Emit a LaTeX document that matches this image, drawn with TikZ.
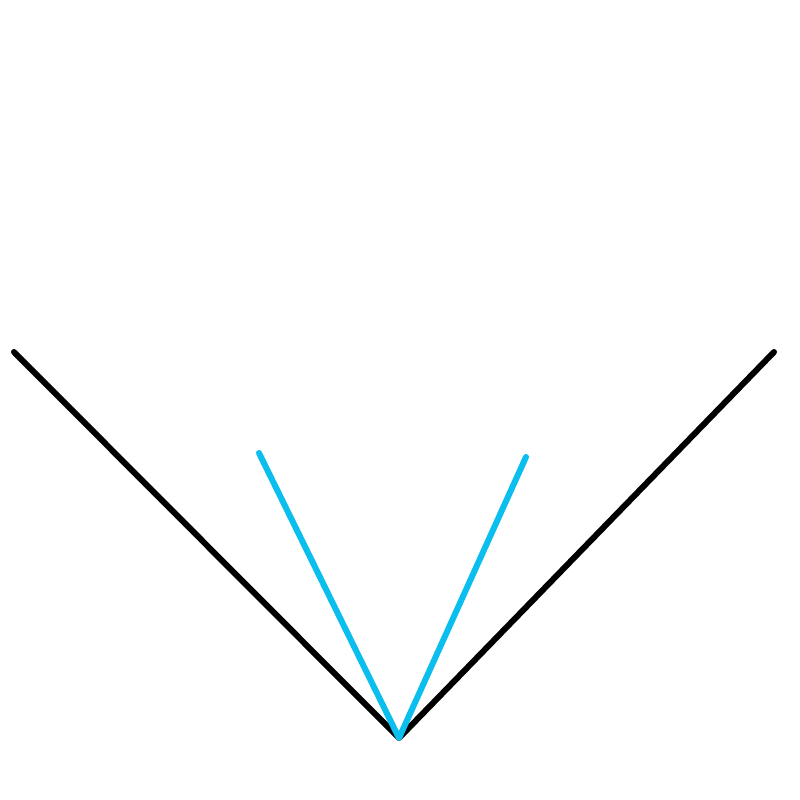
\documentclass[tikz,border=0pt]{standalone}
\definecolor{vblue}{RGB}{10,190,238}
\begin{document}
\begin{tikzpicture}[x=1pt,y=-1pt,
  blackline/.style={draw=black,line width=6pt,line cap=round,line join=round},
  blueline/.style={draw=vblue,line width=6pt,line cap=round,line join=round}]
\useasboundingbox[fill=white] (0,0) rectangle (800,800);
\coordinate (apex) at (399,738);
\coordinate (bl) at (14,352);
\coordinate (br) at (774,352);
\coordinate (cl) at (259,453);
\coordinate (cr) at (526,457);
\draw[blackline] (bl) -- (apex) -- (br);
\draw[blueline] (cl) -- (apex) -- (cr);
\end{tikzpicture}
\end{document}
